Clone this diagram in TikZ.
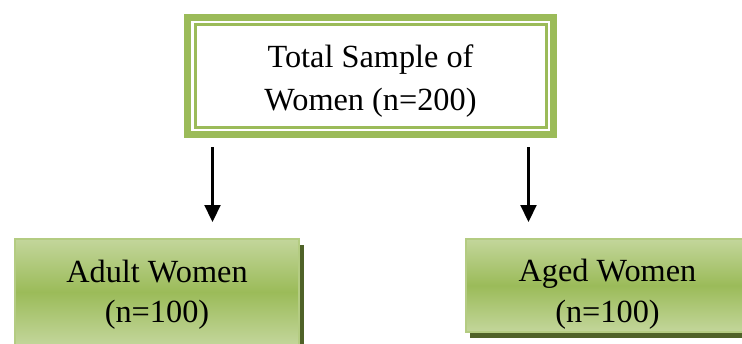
\documentclass[tikz,border=0pt]{standalone}
\usepackage{fontspec}
\setmainfont{Liberation Serif}
\usetikzlibrary{arrows.meta,shadows,positioning}
\definecolor{olivegreen}{HTML}{9BBB59}
\definecolor{palegreen}{HTML}{C3D69B}
\definecolor{darkolive}{HTML}{4F6228}
\tikzstyle{every picture}+=[x=1pt,y=-1pt]
\tikzstyle{every picture}+=[>={Triangle[width=16pt,length=17pt]}]
\tikzstyle{every picture}+=[line width=2.2pt]
\tikzstyle{totalbox}=[draw=olivegreen, line width=7pt, fill=white]
\tikzstyle{totalbox}+=[inner sep=0pt, outer sep=0pt, minimum width=366pt]
\tikzstyle{totalbox}+=[align=center, font=\fontsize{32.3}{43}\selectfont]
\tikzstyle{innerline}=[draw=olivegreen, line width=2.5pt]
\tikzstyle{groupbox}=[draw=olivegreen!75!white, line width=2pt]
\tikzstyle{groupbox}+=[top color=palegreen, bottom color=palegreen, middle color=olivegreen]
\tikzstyle{groupbox}+=[drop shadow={shadow xshift=4.5pt, shadow yshift=-6pt, fill=darkolive, opacity=1}]
\tikzstyle{groupbox}+=[inner sep=0pt, outer sep=0pt, minimum width=284pt]
\tikzstyle{groupbox}+=[align=center, font=\fontsize{32.3}{40.5}\selectfont]
\begin{document}
\begin{tikzpicture}
\useasboundingbox (0,0) rectangle (742,343);

\node[totalbox, text height=92.5pt, text depth=24.5pt] (total) at (370.5,76) {Total Sample of\\Women (n=200)};
\draw[innerline] ([shift={(7.8pt,7.2pt)}]total.south west) rectangle ([shift={(-7pt,-7.2pt)}]total.north east);

\node[groupbox, text height=83.5pt, text depth=22.5pt, anchor=north] (adult) at (157,239) {Adult Women\\(n=100)};
\node[groupbox, text height=83pt, text depth=10pt, anchor=north] (aged) at (607.5,239) {Aged Women\\(n=100)};

\coordinate (la) at ([xshift=25pt]total.south west);
\coordinate (ra) at ([xshift=-25pt]total.south east);

\path[->, shorten <=12.5pt, shorten >=17pt]
   (la) edge (la |- adult.north)
   (ra) edge (ra |- aged.north)
;
\end{tikzpicture}
\end{document}
